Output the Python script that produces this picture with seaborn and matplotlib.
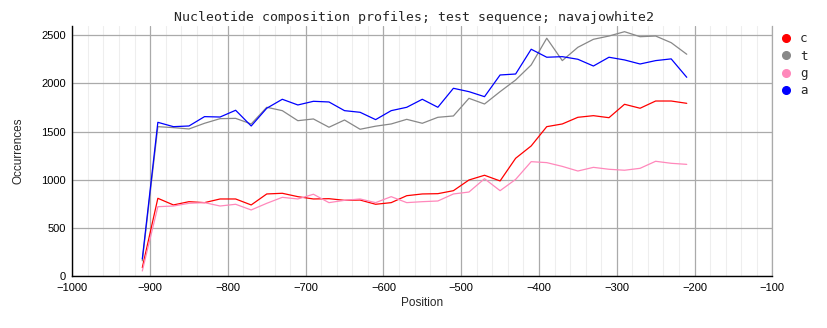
import numpy as np
import pandas as pd
import matplotlib
matplotlib.use("Agg")
import matplotlib.pyplot as plt
from matplotlib.lines import Line2D
from matplotlib.ticker import MultipleLocator
import seaborn as sns

positions = [-910, -890, -870, -850, -830, -810, -790, -770, -750, -730,
             -710, -690, -670, -650, -630, -610, -590, -570, -550, -530,
             -510, -490, -470, -450, -430, -410, -390, -370, -350, -330,
             -310, -290, -270, -250, -230, -210]
c_vals = [90, 809, 740, 774, 764, 802, 802, 740, 854, 861, 826, 802, 805, 788,
          791, 747, 764, 836, 854, 857, 888, 999, 1048, 989, 1224, 1352, 1552,
          1580, 1649, 1666, 1645, 1784, 1743, 1818, 1818, 1794]
t_vals = [160, 1552, 1542, 1528, 1587, 1635, 1638, 1580, 1753, 1718, 1614, 1632,
          1546, 1621, 1525, 1557, 1580, 1628, 1587, 1649, 1663, 1846, 1787, 1915,
          2036, 2192, 2469, 2237, 2375, 2458, 2492, 2537, 2485, 2492, 2423, 2303]
g_vals = [55, 722, 729, 757, 764, 729, 747, 688, 757, 819, 802, 851, 764, 788,
          802, 764, 826, 764, 774, 781, 854, 874, 1012, 888, 1005, 1189, 1179,
          1140, 1092, 1130, 1110, 1100, 1120, 1193, 1172, 1161]
a_vals = [180, 1597, 1552, 1559, 1656, 1652, 1722, 1559, 1743, 1836, 1777, 1815,
          1808, 1718, 1701, 1625, 1718, 1753, 1836, 1753, 1950, 1915, 1863, 2088,
          2098, 2355, 2272, 2278, 2251, 2181, 2272, 2244, 2202, 2237, 2255, 2064]

series_names = ["c", "t", "g", "a"]
series_colors = ["#ff0000", "#888888", "#ff88bb", "#0000ff"]
title_text = "Nucleotide composition profiles; test sequence; navajowhite2"
x_ticks = [-1000, -900, -800, -700, -600, -500, -400, -300, -200, -100]
y_ticks = [0, 500, 1000, 1500, 2000, 2500]

df = pd.DataFrame({
    "Position": positions * 4,
    "Occurrences": c_vals + t_vals + g_vals + a_vals,
    "base": sum([[n] * len(positions) for n in series_names], []),
})

sns.set_theme(style="white")
plt.rcParams["font.family"] = ["Liberation Sans", "DejaVu Sans"]

fig = plt.figure(figsize=(8.28, 3.28), dpi=100)
ax = fig.add_axes([72.3 / 828, 1 - 276.3 / 328, 700 / 828, (276.3 - 26) / 328])

sns.lineplot(data=df, x="Position", y="Occurrences", hue="base",
             hue_order=series_names, palette=series_colors, linewidth=0.9,
             ax=ax, legend=False, estimator=None, sort=False)

ax.set_xlim(-1000, -100)
ax.set_ylim(0, 2596)
ax.set_xticks(x_ticks)
ax.set_yticks(y_ticks)
ax.xaxis.set_minor_locator(MultipleLocator(20))
ax.grid(which="minor", axis="x", color="#eeeeee", linewidth=0.8, zorder=0)
ax.grid(which="major", axis="both", color="#aaaaaa", linewidth=0.9, zorder=0)
ax.set_axisbelow(True)
ax.tick_params(axis="both", which="both", length=0, labelsize=8, colors="black")
ax.tick_params(axis="x", pad=5)
ax.tick_params(axis="y", pad=4.5)
ax.spines["top"].set_visible(False)
ax.spines["right"].set_visible(True)
ax.spines["right"].set_color("#aaaaaa")
ax.spines["right"].set_linewidth(0.9)
for sp in ["left", "bottom"]:
    ax.spines[sp].set_color("black")
    ax.spines[sp].set_linewidth(1.0)

ax.set_xlabel("Position", fontsize=8.5, labelpad=3)
ax.set_ylabel("Occurrences", fontsize=8.5, labelpad=12)

fig.text(414 / 828, 1 - 18 / 328, title_text, ha="center", va="center",
         fontsize=9.5, family="DejaVu Sans Mono")

handles = [Line2D([], [], linestyle="none", marker="o", markersize=5.5,
                  markerfacecolor=col, markeredgecolor=col)
           for col in series_colors]
fig.legend(handles, series_names, loc="upper left",
           bbox_to_anchor=(774 / 828, 1 - 26 / 328), frameon=False,
           handlelength=1.0, handletextpad=0.6, labelspacing=0.35,
           prop={"family": "DejaVu Sans Mono", "size": 9}, borderpad=0)

fig.savefig("out.png", dpi=100)
